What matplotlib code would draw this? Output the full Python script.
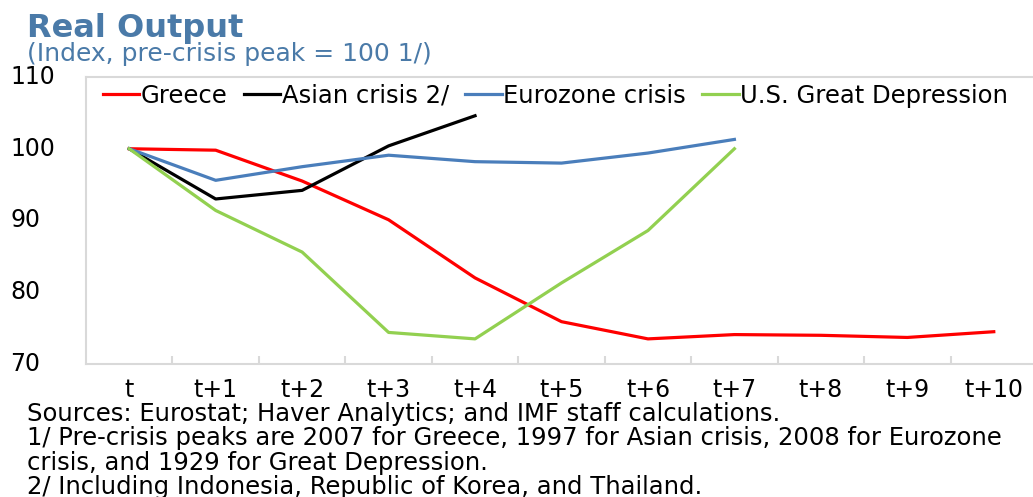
import numpy as np
import matplotlib
matplotlib.use('Agg')
import matplotlib.pyplot as plt

periods = ['t', 't+1', 't+2', 't+3', 't+4', 't+5', 't+6', 't+7', 't+8', 't+9', 't+10']
greece   = [100, 99.8, 95.5, 90.1, 82.0, 75.9, 73.5, 74.1, 74.0, 73.7, 74.5]
asian    = [100, 93.0, 94.2, 100.4, 104.6]
eurozone = [100, 95.6, 97.5, 99.1, 98.2, 98.0, 99.4, 101.3]
us_gd    = [100, 91.4, 85.6, 74.4, 73.5, 81.3, 88.6, 100.0]

W, H = 1033, 497
fig = plt.figure(figsize=(W / 100, H / 100), dpi=100)

# axes box in pixels: left 86, top 77, bottom 364, right just past the edge
ax = fig.add_axes([86 / W, 1 - 364 / H, (1037 - 86) / W, (364 - 77) / H])

x = np.arange(len(periods))
ax.plot(x[:len(greece)], greece, color='#ff0000', lw=2.3, label='Greece')
ax.plot(x[:len(asian)], asian, color='black', lw=2.3, label='Asian crisis 2/')
ax.plot(x[:len(eurozone)], eurozone, color='#4a7ebb', lw=2.3, label='Eurozone crisis')
ax.plot(x[:len(us_gd)], us_gd, color='#92d050', lw=2.3, label='U.S. Great Depression')

ax.set_xlim(-0.5, len(periods) - 0.5)
ax.set_ylim(70, 110)
ax.set_yticks([70, 80, 90, 100, 110])
ax.set_xticks(x)
ax.set_xticklabels(periods)
ax.set_xticks(np.arange(0.5, len(periods) - 0.5, 1), minor=True)

for s in ['left', 'bottom', 'top']:
    ax.spines[s].set_color('#d9d9d9')
    ax.spines[s].set_linewidth(1.5)
ax.spines['right'].set_visible(False)

ax.tick_params(axis='y', length=0, labelsize=17, pad=54.5)
ax.tick_params(axis='x', which='major', length=0, labelsize=17, pad=10)
ax.tick_params(axis='x', which='minor', direction='in', length=6, color='#d9d9d9', width=1.5)
for lab in ax.get_yticklabels():
    lab.set_horizontalalignment('left')
    lab.set_verticalalignment('center')

leg = ax.legend(loc='upper left', bbox_to_anchor=(0.0, 1.035), ncol=4, frameon=False,
                fontsize=17.5, handlelength=1.5, handletextpad=0.05, columnspacing=0.68,
                borderaxespad=0.3)

blue = '#4a7aa8'
fig.text(27 / W, 1 - 28 / H, 'Real Output', color=blue, fontsize=23, fontweight='bold',
         va='center', ha='left')
fig.text(27 / W, 1 - 54 / H, '(Index, pre-crisis peak = 100 1/)', color=blue, fontsize=18,
         va='center', ha='left')

# footnotes; the second line runs to the right edge as in the source figure
notes = ['Sources: Eurostat; Haver Analytics; and IMF staff calculations.',
         '1/ Pre-crisis peaks are 2007 for Greece, 1997 for Asian crisis, 2008 for Eurozone',
         'crisis, and 1929 for Great Depression.',
         '2/ Including Indonesia, Republic of Korea, and Thailand.']
for i, n in enumerate(notes):
    fig.text(27 / W, 1 - (414 + i * 24.3) / H, n, fontsize=17.5, va='center', ha='left')

fig.savefig('out.png', dpi=100)
